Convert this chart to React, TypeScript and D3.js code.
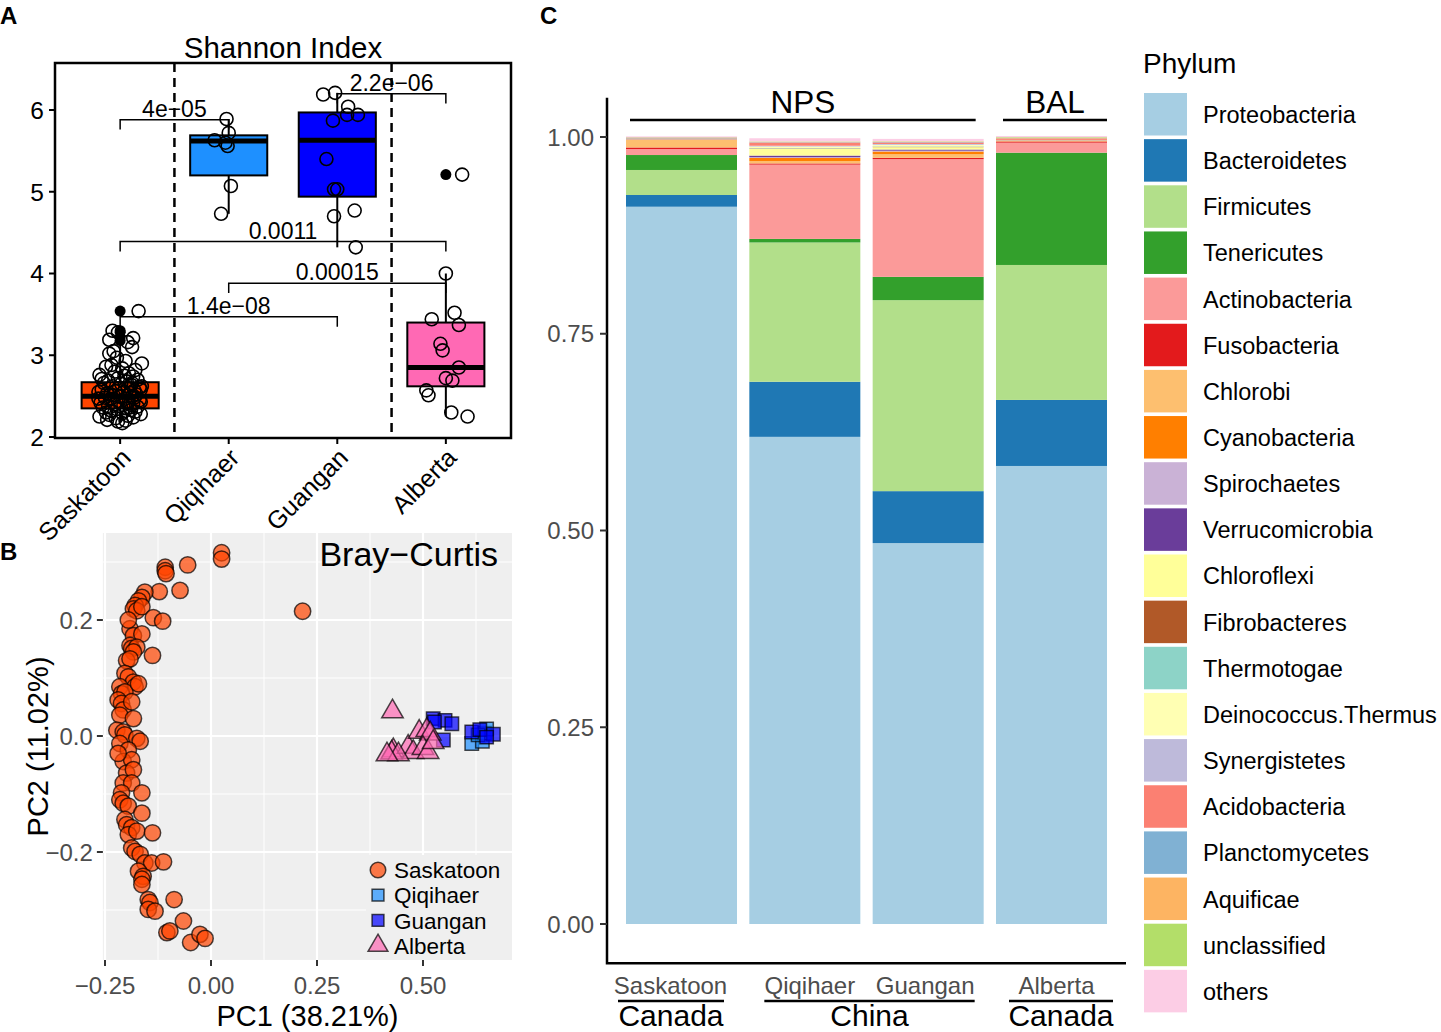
/* eslint-disable @typescript-eslint/no-explicit-any */
import { useEffect, useRef } from "react";
import * as d3 from "d3";

const FONT = "'Liberation Sans', Arial, Helvetica, sans-serif";

const sites = ["Saskatoon", "Qiqihaer", "Guangan", "Alberta"];
const siteColors = ["#FF4500", "#1E90FF", "#0000FF", "#FF69B4"];

// ---------- A: Shannon index ----------
// [lower whisker, q1, median, q3, upper whisker]
const shannonBoxes = [
  [2.17, 2.35, 2.5, 2.67, 3.15],
  [4.73, 5.2, 5.62, 5.69, 5.89],
  [4.32, 4.94, 5.63, 5.97, 6.21],
  [2.25, 2.62, 2.85, 3.4, 4.0],
];
const shannonOutliers = [[3.18, 3.22, 3.28, 3.3, 3.54], [], [], [5.21]];

// [value, jitter offset (category units)]
const shannonSaskatoon = [
  [3.54, 0.17], [3.3, -0.07], [3.28, -0.02], [3.21, 0.12], [3.19, -0.1], [3.16, 0.07],
  [3.1, 0.11], [3.05, -0.06], [3.02, -0.1], [2.97, -0.03], [2.93, 0.05], [2.9, 0.2],
  [2.88, -0.08], [2.86, -0.13], [2.84, 0.02], [2.82, 0.14], [2.8, -0.05], [2.78, 0.08],
  [2.76, -0.19], [2.75, 0.04], [2.74, 0.12], [2.72, -0.02], [2.7, 0.16], [2.69, -0.11],
  [2.68, 0.06], [2.66, -0.15], [2.65, 0.01], [2.64, 0.1], [2.62, -0.07], [2.61, 0.18],
  [2.6, -0.01], [2.59, 0.07], [2.58, -0.17], [2.57, 0.13], [2.56, -0.04], [2.55, 0.03],
  [2.54, 0.09], [2.53, -0.12], [2.52, 0.15], [2.51, -0.06], [2.5, 0.0], [2.49, 0.11],
  [2.48, -0.14], [2.47, 0.05], [2.46, -0.09], [2.45, 0.18], [2.44, -0.02], [2.43, 0.08],
  [2.42, -0.18], [2.41, 0.12], [2.4, -0.05], [2.39, 0.03], [2.38, -0.11], [2.37, 0.16],
  [2.36, -0.16], [2.35, 0.06], [2.34, -0.03], [2.33, 0.1], [2.32, -0.08], [2.31, 0.14],
  [2.3, -0.13], [2.29, 0.02], [2.28, 0.19], [2.27, -0.1], [2.26, 0.07], [2.25, -0.19],
  [2.24, 0.12], [2.23, -0.04], [2.21, -0.12], [2.2, 0.05], [2.19, -0.02], [2.17, 0.02],
  [2.55, -0.2], [2.62, 0.2], [2.47, -0.2], [2.58, 0.19], [2.43, 0.19], [2.71, -0.17],
  [2.52, -0.09], [2.48, 0.13], [2.66, 0.11], [2.36, 0.09],
];
const shannonQiqihaer = [
  [5.89, -0.02], [5.72, 0.0], [5.63, -0.13], [5.6, -0.03], [5.56, -0.01], [5.07, 0.02], [4.73, -0.07],
];
const shannonGuangan = [
  [6.19, -0.13], [6.21, -0.02], [6.04, 0.1], [5.94, 0.09], [5.94, 0.19], [5.87, -0.04],
  [5.4, -0.1], [5.03, -0.03], [5.03, 0.0], [4.7, -0.03], [4.77, 0.16], [4.32, 0.17],
];
const shannonAlberta = [
  [4.0, 0.0], [3.44, -0.13], [3.52, 0.08], [3.37, 0.12], [3.14, -0.05], [3.06, -0.03],
  [2.85, 0.12], [2.72, 0.0], [2.69, 0.06], [2.57, -0.18], [2.51, -0.16], [2.3, 0.05],
  [2.25, 0.2], [5.21, 0.15],
];

// [site a, site b, bracket height, p value]
const pBrackets: [number, number, number, string][] = [
  [0, 1, 5.88, "4e\u221205"],
  [2, 3, 6.2, "2.2e\u221206"],
  [0, 3, 4.39, "0.0011"],
  [1, 3, 3.88, "0.00015"],
  [0, 2, 3.47, "1.4e\u221208"],
];

// ---------- B: Bray-Curtis PCoA ----------
const pcoaSaskatoon = [
  [0.025, 0.316], [0.025, 0.305], [-0.055, 0.295], [-0.108, 0.291], [-0.108, 0.285],
  [-0.106, 0.28], [-0.073, 0.251], [-0.122, 0.249], [-0.156, 0.248], [-0.163, 0.239],
  [-0.171, 0.233], [-0.179, 0.225], [-0.183, 0.219], [-0.175, 0.216], [-0.163, 0.223],
  [0.216, 0.215], [-0.136, 0.204], [-0.114, 0.198], [-0.191, 0.185], [-0.183, 0.173],
  [-0.163, 0.176], [-0.191, 0.156], [-0.187, 0.151], [-0.175, 0.153], [-0.183, 0.145],
  [-0.138, 0.139], [-0.199, 0.13], [-0.191, 0.133], [-0.203, 0.108], [-0.195, 0.102],
  [-0.183, 0.093], [-0.179, 0.085], [-0.215, 0.085], [-0.211, 0.073], [-0.203, 0.076],
  [-0.219, 0.062], [-0.211, 0.056], [-0.207, 0.045], [-0.215, 0.036], [-0.187, 0.059],
  [-0.183, 0.03], [-0.222, 0.01], [-0.207, 0.007], [-0.203, 0.002], [-0.175, -0.004],
  [-0.167, -0.009], [-0.215, -0.013], [-0.195, -0.024], [-0.207, -0.044], [-0.187, -0.041],
  [-0.199, -0.064], [-0.183, -0.058], [-0.207, -0.081], [-0.187, -0.081], [-0.163, -0.098],
  [-0.211, -0.098], [-0.215, -0.11], [-0.207, -0.116], [-0.195, -0.121], [-0.163, -0.133],
  [-0.203, -0.144], [-0.199, -0.153], [-0.187, -0.158], [-0.195, -0.17], [-0.175, -0.164],
  [-0.138, -0.167], [-0.187, -0.193], [-0.179, -0.199], [-0.167, -0.204], [-0.156, -0.219],
  [-0.14, -0.219], [-0.112, -0.217], [-0.171, -0.233], [-0.16, -0.242], [-0.163, -0.247],
  [-0.163, -0.256], [-0.148, -0.282], [-0.144, -0.287], [-0.148, -0.299], [-0.132, -0.302],
  [-0.087, -0.282], [-0.104, -0.339], [-0.097, -0.336], [-0.065, -0.319], [-0.048, -0.356],
  [-0.026, -0.342], [-0.014, -0.349], [-0.195, 0.2], [-0.171, 0.09], [-0.219, -0.03],
];
const pcoaQiqihaer = [
  [0.615, -0.013], [0.64, -0.009], [0.645, 0.005], [0.65, 0.012], [0.63, 0.002],
];
const pcoaGuangan = [
  [0.524, 0.03], [0.552, 0.027], [0.568, 0.021], [0.548, -0.007], [0.615, 0.007],
  [0.634, 0.011], [0.666, 0.003], [0.65, -0.002], [0.527, 0.024],
];
const pcoaAlberta = [
  [0.428, 0.042], [0.43, -0.025], [0.426, -0.029], [0.465, -0.019], [0.477, -0.028],
  [0.491, 0.007], [0.509, 0.01], [0.517, 0.004], [0.5, -0.021], [0.512, -0.028],
  [0.524, -0.011], [0.442, -0.032], [0.415, -0.032],
];

// ---------- C: phylum composition ----------
const phyla = [
  "Proteobacteria", "Bacteroidetes", "Firmicutes", "Tenericutes", "Actinobacteria",
  "Fusobacteria", "Chlorobi", "Cyanobacteria", "Spirochaetes", "Verrucomicrobia",
  "Chloroflexi", "Fibrobacteres", "Thermotogae", "Deinococcus.Thermus", "Synergistetes",
  "Acidobacteria", "Planctomycetes", "Aquificae", "unclassified", "others",
];
const phylumColors = [
  "#A6CEE3", "#1F78B4", "#B2DF8A", "#33A02C", "#FB9A99",
  "#E31A1C", "#FDBF6F", "#FF7F00", "#CAB2D6", "#6A3D9A",
  "#FFFF99", "#B15928", "#8DD3C7", "#FFFFB3", "#BEBADA",
  "#FB8072", "#80B1D3", "#FDB462", "#B3DE69", "#FCCDE5",
];
const abundSaskatoon = [0.9114, 0.0149, 0.0318, 0.019, 0.0076, 0.002, 0.01, 0.0003, 0.0003, 0.0008, 0.0005, 0.0001, 0.0001, 0.0003, 0.0001, 0.0004, 0.0002, 0.0001, 0.0001, 0.0008];
const abundQiqihaer = [0.619, 0.07, 0.177, 0.0045, 0.0944, 0.0015, 0.003, 0.004, 0.001, 0.002, 0.0085, 0.0005, 0.0005, 0.002, 0.001, 0.004, 0.0005, 0.0005, 0.0005, 0.004];
const abundGuangan = [0.484, 0.066, 0.2427, 0.0296, 0.1496, 0.0017, 0.0045, 0.0035, 0.001, 0.0015, 0.003, 0.0005, 0.0005, 0.002, 0.001, 0.002, 0.0005, 0.0005, 0.0005, 0.003];
const abundAlberta = [0.582, 0.0839, 0.1715, 0.1427, 0.0127, 0.0015, 0.0005, 0.0005, 0.0002, 0.0002, 0.0002, 0.0001, 0.0001, 0.0001, 0.0001, 0.002, 0.0001, 0.0001, 0.0012, 0.0015];
const groupLabels = ["Canada", "China", "Canada"];

const App = () => {
  const ref = useRef<SVGSVGElement>(null);

  useEffect(() => {
    const svg = d3.select(ref.current);
    svg.selectAll("*").remove();
    svg.attr("font-family", FONT);

    // panel letters
    const letters: [string, number, number][] = [["A", 0, 24], ["B", 0, 560], ["C", 540, 24]];
    letters.forEach(([t, x, y]) =>
      svg.append("text").attr("x", x).attr("y", y).attr("font-size", 24).attr("font-weight", "bold").text(t)
    );

    // ================= A =================
    const gA = svg.append("g");
    const xA = d3.scalePoint().domain(sites).range([55, 511]).padding(0.6);
    const yA = d3.scaleLinear().domain([2, 6]).range([437, 110]);
    const stepA = xA.step();
    const boxW = stepA * 0.71;

    gA.append("text").attr("x", 283).attr("y", 58).attr("text-anchor", "middle")
      .attr("font-size", 29.5).text("Shannon Index");

    // dashed separators
    [0.5, 2.5].forEach((k) => {
      const x = (xA(sites[0]) as number) + k * stepA;
      gA.append("line").attr("x1", x).attr("x2", x).attr("y1", 63).attr("y2", 438)
        .attr("stroke", "#000").attr("stroke-width", 2.5).attr("stroke-dasharray", "9,6");
    });

    // boxes
    shannonBoxes.forEach((b, i) => {
      const cx = xA(sites[i]) as number;
      gA.append("line").attr("x1", cx).attr("x2", cx).attr("y1", yA(b[3])).attr("y2", yA(b[4]))
        .attr("stroke", "#000").attr("stroke-width", 2);
      gA.append("line").attr("x1", cx).attr("x2", cx).attr("y1", yA(b[1])).attr("y2", yA(b[0]))
        .attr("stroke", "#000").attr("stroke-width", 2);
      gA.append("rect").attr("x", cx - boxW / 2).attr("width", boxW)
        .attr("y", yA(b[3])).attr("height", yA(b[1]) - yA(b[3]))
        .attr("fill", siteColors[i]).attr("stroke", "#000").attr("stroke-width", 2);
      gA.append("line").attr("x1", cx - boxW / 2).attr("x2", cx + boxW / 2)
        .attr("y1", yA(b[2])).attr("y2", yA(b[2])).attr("stroke", "#000").attr("stroke-width", 5);
      shannonOutliers[i].forEach((v) =>
        gA.append("circle").attr("cx", cx).attr("cy", yA(v)).attr("r", 5.5).attr("fill", "#000")
      );
    });

    // jittered observations
    [shannonSaskatoon, shannonQiqihaer, shannonGuangan, shannonAlberta].forEach((pts, i) => {
      const cx = xA(sites[i]) as number;
      gA.selectAll(null).data(pts).enter().append("circle")
        .attr("cx", (d: any) => cx + d[1] * stepA).attr("cy", (d: any) => yA(d[0]))
        .attr("r", 6.5).attr("fill", "none").attr("stroke", "#000").attr("stroke-width", 1.6);
    });

    // significance brackets
    pBrackets.forEach(([a, b, h, label]) => {
      const x1 = xA(sites[a]) as number;
      const x2 = xA(sites[b]) as number;
      const y = yA(h);
      const drop = yA(h - 0.12) - y;
      gA.append("path").attr("d", `M${x1},${y + drop}V${y}H${x2}V${y + drop}`)
        .attr("fill", "none").attr("stroke", "#000").attr("stroke-width", 1.5);
      gA.append("text").attr("x", (x1 + x2) / 2).attr("y", y - 3).attr("text-anchor", "middle")
        .attr("font-size", 23).text(label);
    });

    // frame and axes
    gA.append("rect").attr("x", 55).attr("y", 63).attr("width", 456).attr("height", 375)
      .attr("fill", "none").attr("stroke", "#000").attr("stroke-width", 2.5);
    [2, 3, 4, 5, 6].forEach((t) => {
      gA.append("line").attr("x1", 49).attr("x2", 55).attr("y1", yA(t)).attr("y2", yA(t))
        .attr("stroke", "#000").attr("stroke-width", 2);
      gA.append("text").attr("x", 44).attr("y", yA(t)).attr("dy", "0.36em")
        .attr("text-anchor", "end").attr("font-size", 24.5).text(t);
    });
    sites.forEach((s) => {
      const x = xA(s) as number;
      gA.append("line").attr("x1", x).attr("x2", x).attr("y1", 438).attr("y2", 444)
        .attr("stroke", "#000").attr("stroke-width", 2);
      gA.append("text").attr("transform", `translate(${x - 1},${446}) rotate(-45)`)
        .attr("dy", "0.75em").attr("text-anchor", "end").attr("font-size", 25).text(s);
    });

    // ================= B =================
    const gB = svg.append("g");
    const xB = d3.scaleLinear().domain([-0.25, 0.5]).range([105, 423]);
    const yB = d3.scaleLinear().domain([-0.2, 0.2]).range([852, 620]);
    const [px0, px1] = [xB(-0.255), xB(0.71)];
    const [py0, py1] = [yB(0.35), yB(-0.386)];
    const panelBg = "#EFEFEF";

    gB.append("rect").attr("x", px0).attr("y", py0).attr("width", px1 - px0).attr("height", py1 - py0)
      .attr("fill", panelBg);
    [-0.125, 0.125, 0.375, 0.625].forEach((v) =>
      gB.append("line").attr("x1", xB(v)).attr("x2", xB(v)).attr("y1", py0).attr("y2", py1)
        .attr("stroke", "#fff").attr("stroke-width", 1)
    );
    [-0.3, -0.1, 0.1, 0.3].forEach((v) =>
      gB.append("line").attr("x1", px0).attr("x2", px1).attr("y1", yB(v)).attr("y2", yB(v))
        .attr("stroke", "#fff").attr("stroke-width", 1)
    );
    const xTicksB = [-0.25, 0, 0.25, 0.5];
    const yTicksB = [-0.2, 0, 0.2];
    xTicksB.forEach((v) =>
      gB.append("line").attr("x1", xB(v)).attr("x2", xB(v)).attr("y1", py0).attr("y2", py1)
        .attr("stroke", "#fff").attr("stroke-width", 2.2)
    );
    yTicksB.forEach((v) =>
      gB.append("line").attr("x1", px0).attr("x2", px1).attr("y1", yB(v)).attr("y2", yB(v))
        .attr("stroke", "#fff").attr("stroke-width", 2.2)
    );

    const ptStyle = (sel: any, color: string) =>
      sel.attr("fill", color).attr("fill-opacity", 0.7)
        .attr("stroke", "#000").attr("stroke-opacity", 0.7).attr("stroke-width", 1.5);

    const sym = {
      circle: d3.symbol().type(d3.symbolCircle).size(210),
      square: d3.symbol().type(d3.symbolSquare).size(180),
      triangle: d3.symbol().type(d3.symbolTriangle).size(200),
    };
    const pcoaSets: [number[][], any, string][] = [
      [pcoaSaskatoon, sym.circle, siteColors[0]],
      [pcoaQiqihaer, sym.square, siteColors[1]],
      [pcoaGuangan, sym.square, siteColors[2]],
      [pcoaAlberta, sym.triangle, siteColors[3]],
    ];
    pcoaSets.forEach(([pts, shape, color]) => {
      ptStyle(
        gB.selectAll(null).data(pts).enter().append("path")
          .attr("transform", (d: any) => `translate(${xB(d[0])},${yB(d[1])})`)
          .attr("d", shape()),
        color
      );
    });

    // legend
    gB.append("rect").attr("x", 366).attr("y", 855).attr("width", px1 - 366).attr("height", py1 - 855)
      .attr("fill", panelBg);
    const legendSizes = [190, 140, 140, 170];
    pcoaSets.forEach(([, shape, color], i) => {
      const ly = 870 + i * 25.2;
      ptStyle(gB.append("path").attr("transform", `translate(378,${ly})`)
        .attr("d", shape.size(legendSizes[i])()), color);
      gB.append("text").attr("x", 394).attr("y", ly).attr("dy", "0.36em")
        .attr("font-size", 22.5).text(sites[i]);
    });

    gB.append("text").attr("x", 498).attr("y", 566).attr("text-anchor", "end")
      .attr("font-size", 34).text("Bray\u2212Curtis");

    const fmt2 = d3.format(".2f");
    const fmt1 = d3.format(".1f");
    xTicksB.forEach((v) => {
      gB.append("line").attr("x1", xB(v)).attr("x2", xB(v)).attr("y1", py1).attr("y2", py1 + 6)
        .attr("stroke", "#333").attr("stroke-width", 2);
      gB.append("text").attr("x", xB(v)).attr("y", 985).attr("dy", "0.36em").attr("text-anchor", "middle")
        .attr("font-size", 24).attr("fill", "#4D4D4D").text(fmt2(v));
    });
    yTicksB.forEach((v) => {
      gB.append("line").attr("x1", px0 - 6).attr("x2", px0).attr("y1", yB(v)).attr("y2", yB(v))
        .attr("stroke", "#333").attr("stroke-width", 2);
      gB.append("text").attr("x", px0 - 10).attr("y", yB(v)).attr("dy", "0.36em").attr("text-anchor", "end")
        .attr("font-size", 24).attr("fill", "#4D4D4D").text(fmt1(v));
    });
    gB.append("text").attr("x", (px0 + px1) / 2).attr("y", 1026).attr("text-anchor", "middle")
      .attr("font-size", 29).text("PC1 (38.21%)");
    gB.append("text").attr("transform", `translate(48,${(py0 + py1) / 2}) rotate(-90)`)
      .attr("text-anchor", "middle").attr("font-size", 29).text("PC2 (11.02%)");

    // ================= C =================
    const gC = svg.append("g");
    const xC = d3.scaleBand().domain(sites).range([607.5, 1125.5]).paddingInner(0.1).paddingOuter(0.15);
    const yC = d3.scaleLinear().domain([0, 1]).range([924, 137]);
    const abund = [abundSaskatoon, abundQiqihaer, abundGuangan, abundAlberta];
    const rows = sites.map((s, i) => {
      const o: any = { site: s };
      phyla.forEach((p, j) => (o[p] = abund[i][j]));
      return o;
    });
    const series = d3.stack().keys(phyla)(rows);
    series.forEach((ser: any, k: number) => {
      gC.selectAll(null).data(ser).enter().append("rect")
        .attr("x", (d: any) => xC(d.data.site) as number)
        .attr("width", xC.bandwidth())
        .attr("y", (d: any) => yC(d[1]))
        .attr("height", (d: any) => Math.max(0, yC(d[0]) - yC(d[1])))
        .attr("fill", phylumColors[k]);
    });

    const axisBottom = yC(-0.05);
    gC.append("path").attr("d", `M607,${yC(1.05)}V${axisBottom}H1126`)
      .attr("fill", "none").attr("stroke", "#000").attr("stroke-width", 2.5);
    [0, 0.25, 0.5, 0.75, 1].forEach((v) => {
      gC.append("line").attr("x1", 600).attr("x2", 607).attr("y1", yC(v)).attr("y2", yC(v))
        .attr("stroke", "#333").attr("stroke-width", 2);
      gC.append("text").attr("x", 594).attr("y", yC(v)).attr("dy", "0.36em").attr("text-anchor", "end")
        .attr("font-size", 24).attr("fill", "#4D4D4D").text(fmt2(v));
    });

    // sample type headers
    const band = xC.bandwidth();
    const headers: [string, number, number][] = [
      ["NPS", (xC("Saskatoon") as number) + 4, (xC("Guangan") as number) + band - 8],
      ["BAL", (xC("Alberta") as number) + 7, (xC("Alberta") as number) + band],
    ];
    headers.forEach(([t, a, b]) => {
      gC.append("line").attr("x1", a).attr("x2", b).attr("y1", 120).attr("y2", 120)
        .attr("stroke", "#000").attr("stroke-width", 2.5);
      gC.append("text").attr("x", (a + b) / 2).attr("y", 113).attr("text-anchor", "middle")
        .attr("font-size", 31.5).text(t);
    });

    // site + country labels
    const labelShift = [-11, 5, -3, 5];
    sites.forEach((s, i) => {
      gC.append("text").attr("x", (xC(s) as number) + band / 2 + labelShift[i]).attr("y", 994)
        .attr("text-anchor", "middle").attr("font-size", 24).attr("fill", "#4D4D4D").text(s);
    });
    const groups: [number, number][] = [
      [(xC("Saskatoon") as number) - 8, (xC("Saskatoon") as number) + band - 13],
      [(xC("Qiqihaer") as number) + 15, (xC("Guangan") as number) + band - 9],
      [(xC("Alberta") as number) + 13, (xC("Alberta") as number) + band + 6],
    ];
    groups.forEach(([a, b], i) => {
      gC.append("line").attr("x1", a).attr("x2", b).attr("y1", 1001).attr("y2", 1001)
        .attr("stroke", "#000").attr("stroke-width", 2.5);
      gC.append("text").attr("x", (a + b) / 2).attr("y", 1026).attr("text-anchor", "middle")
        .attr("font-size", 30).text(groupLabels[i]);
    });

    // legend
    const gL = svg.append("g");
    gL.append("text").attr("x", 1143).attr("y", 73).attr("font-size", 28).text("Phylum");
    phyla.forEach((p, i) => {
      const top = 93 + i * 46.15;
      gL.append("rect").attr("x", 1144).attr("y", top).attr("width", 43).attr("height", 42.5)
        .attr("fill", phylumColors[i]);
      gL.append("text").attr("x", 1203).attr("y", top + 21.5).attr("dy", "0.36em")
        .attr("font-size", 23.5).text(p);
    });
  }, []);

  return (
    <div style={{ position: "absolute", left: 0, top: 0 }}>
      <svg ref={ref} width={1441} height={1032} style={{ display: "block", background: "#fff" }} />
    </div>
  );
};

export default App;
